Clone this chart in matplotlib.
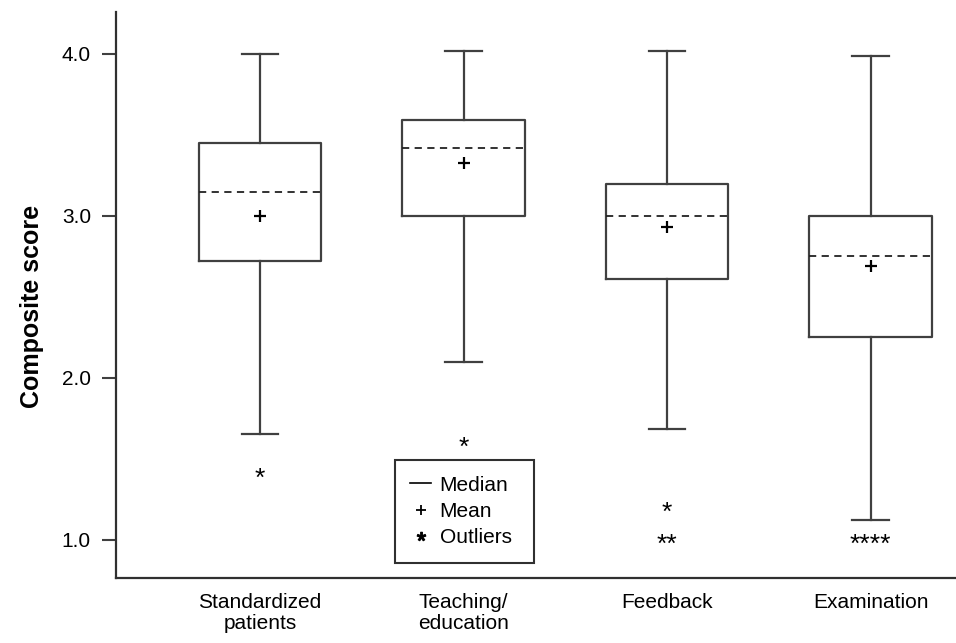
import matplotlib.pyplot as plt
from matplotlib.lines import Line2D

plt.rcParams['font.family'] = ['Liberation Sans', 'DejaVu Sans']
plt.rcParams['mathtext.fontset'] = 'custom'
plt.rcParams['mathtext.rm'] = 'Liberation Sans'
plt.rcParams['mathtext.default'] = 'regular'

# values
categories = ['Standardized\npatients', 'Teaching/\neducation', 'Feedback', 'Examination']
q1 = [2.72, 3.00, 2.61, 2.25]
median = [3.15, 3.42, 3.00, 2.75]
q3 = [3.45, 3.59, 3.20, 3.00]
mean = [3.00, 3.33, 2.93, 2.69]
whis_lo = [1.655, 2.10, 1.685, 1.12]
whis_hi = [4.00, 4.02, 4.02, 3.99]
outlier_vals = [[1.41], [1.60], [1.20, 1.00], [1.00]]
outlier_counts = [[1], [1], [1, 2], [4]]

line_col = '#404040'

fig = plt.figure(figsize=(9.56, 6.43), dpi=100)
ax = fig.add_axes([0.1213, 0.1011, 0.8787, 0.8802])

stats = []
for i in range(len(categories)):
    stats.append({'med': median[i], 'q1': q1[i], 'q3': q3[i],
                  'whislo': whis_lo[i], 'whishi': whis_hi[i],
                  'mean': mean[i], 'fliers': []})

pos = list(range(1, len(categories) + 1))
ax.bxp(stats, positions=pos, widths=0.6, capwidths=0.18,
       showmeans=True, showfliers=False,
       boxprops=dict(color=line_col, linewidth=1.6),
       whiskerprops=dict(color=line_col, linewidth=1.6),
       capprops=dict(color=line_col, linewidth=1.6),
       medianprops=dict(color='#222222', linewidth=1.3, linestyle=(0, (4, 3))),
       meanprops=dict(marker='+', markersize=8.5, markeredgecolor='black',
                      markeredgewidth=1.6))

# outliers drawn as asterisks, repeated for tied values
for p, vals, counts in zip(pos, outlier_vals, outlier_counts):
    for v, c in zip(vals, counts):
        ax.annotate('*' * c, xy=(p, v), xytext=(0, -3.5), textcoords='offset points',
                    ha='center', va='center', fontsize=19, color='black')

ax.set_xlim(0.292, 4.42)
ax.set_ylim(0.765, 4.259)
ax.set_xticks(pos)
ax.set_xticklabels(categories, fontsize=15, linespacing=1.1)
ax.set_yticks([1.0, 2.0, 3.0, 4.0])
ax.set_yticklabels(['1.0', '2.0', '3.0', '4.0'], fontsize=15)
ax.tick_params(axis='x', length=0, pad=11)
ax.tick_params(axis='y', length=10, width=1.5, color=line_col, pad=8)

ax.spines['top'].set_visible(False)
ax.spines['right'].set_visible(False)
for s in ['left', 'bottom']:
    ax.spines[s].set_linewidth(1.6)
    ax.spines[s].set_color('#303030')

ax.set_ylabel('Composite score', fontsize=18, fontweight='bold')
ax.yaxis.set_label_coords(-0.086, 0.48)

handles = [Line2D([], [], color='black', linewidth=1.2),
           Line2D([], [], linestyle='none', marker='+', color='black',
                  markersize=7, markeredgewidth=1.3),
           Line2D([], [], linestyle='none', marker='$*$', color='black',
                  markersize=6)]
leg = ax.legend(handles, ['Median', 'Mean', 'Outliers'], loc='upper left',
                bbox_to_anchor=(0.332, 0.2085, 0.1655, 0.0), mode='expand',
                borderaxespad=0, fontsize=15,
                handlelength=1.0, handletextpad=0.4, labelspacing=0.35,
                borderpad=0.75, fancybox=False, framealpha=1)
leg.get_frame().set_edgecolor('#303030')
leg.get_frame().set_linewidth(1.5)

fig.savefig('out.png', dpi=100)
